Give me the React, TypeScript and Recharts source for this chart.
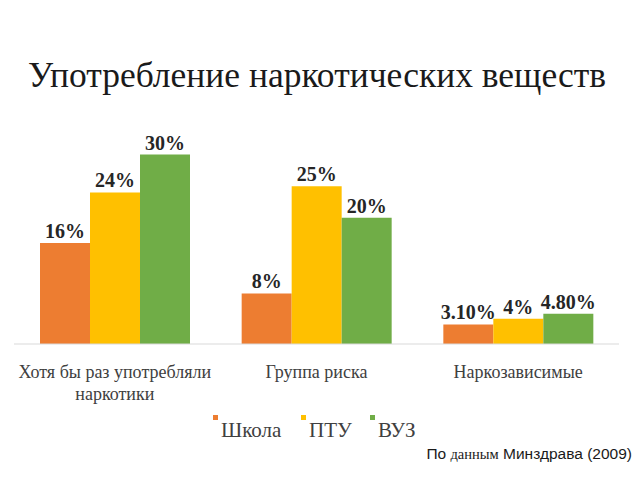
import { BarChart, Bar, XAxis, YAxis, LabelList } from "recharts";

const categories = ["Хотя бы раз употребляли наркотики", "Группа риска", "Наркозависимые"];
const school = [16, 8, 3.1];
const ptu = [24, 25, 4];
const vuz = [30, 20, 4.8];
const schoolLabels = ["16%", "8%", "3.10%"];
const ptuLabels = ["24%", "25%", "4%"];
const vuzLabels = ["30%", "20%", "4.80%"];

const seriesNames = ["Школа", "ПТУ", "ВУЗ"];
const colors = ["#ed7d31", "#ffc000", "#70ad47"];
const legendX = [213, 301, 370];

const data = categories.map((name, i) => ({
  name,
  school: school[i],
  ptu: ptu[i],
  vuz: vuz[i],
  schoolLabel: schoolLabels[i],
  ptuLabel: ptuLabels[i],
  vuzLabel: vuzLabels[i],
}));

const serif = '"Liberation Serif", "Times New Roman", serif';
const sans = '"Liberation Sans", Arial, sans-serif';

function CategoryTick({ x, y, payload }: any) {
  const lines: string[] =
    payload.value === categories[0] ? ["Хотя бы раз употребляли", "наркотики"] : [payload.value];
  return (
    <text x={x} y={y} textAnchor="middle" fontFamily={serif} fontSize={18} fill="#404040">
      {lines.map((l, i) => (
        <tspan key={i} x={x} dy={i === 0 ? 26 : 22}>
          {l}
        </tspan>
      ))}
    </text>
  );
}

const labelProps = {
  position: "top" as const,
  offset: 5,
  fontFamily: serif,
  fontSize: 20,
  fontWeight: "bold",
  fill: "#262626",
};

export default function App() {
  return (
    <div style={{ position: "fixed", left: 0, top: 0, width: 640, height: 480, background: "#fff" }}>
      <BarChart
        width={640}
        height={480}
        data={data}
        margin={{ top: 123, right: 21, left: 14, bottom: 76 }}
        barSize={50}
        barGap={0}
        style={{ position: "absolute", left: 0, top: 0 }}
      >
        <XAxis
          dataKey="name"
          height={60}
          tickLine={false}
          axisLine={{ stroke: "#d9d9d9" }}
          tick={<CategoryTick />}
          interval={0}
        />
        <YAxis hide domain={[0, 35]} />
        <Bar dataKey="school" fill={colors[0]} isAnimationActive={false}>
          <LabelList dataKey="schoolLabel" {...labelProps} />
        </Bar>
        <Bar dataKey="ptu" fill={colors[1]} isAnimationActive={false}>
          <LabelList dataKey="ptuLabel" {...labelProps} />
        </Bar>
        <Bar dataKey="vuz" fill={colors[2]} isAnimationActive={false}>
          <LabelList dataKey="vuzLabel" {...labelProps} />
        </Bar>
      </BarChart>
      <svg width={640} height={480} style={{ position: "absolute", left: 0, top: 0, pointerEvents: "none" }}>
        <text x={317} y={87} textAnchor="middle" fontFamily={serif} fontSize={35.5} fill="#1a1a1a">
          Употребление наркотических веществ
        </text>
        {seriesNames.map((n, i) => (
          <g key={n}>
            <rect x={legendX[i]} y={415} width={5} height={5} fill={colors[i]} />
            <text x={legendX[i] + 8} y={437} fontFamily={serif} fontSize={21} fill="#404040">
              {n}
            </text>
          </g>
        ))}
        <text x={632} y={459} textAnchor="end" fontFamily={sans} fontSize={15.5} fill="#1a1a1a">
          По <tspan fontFamily={serif} fontSize={14.5}>данным</tspan> Минздрава (2009)
        </text>
      </svg>
    </div>
  );
}
